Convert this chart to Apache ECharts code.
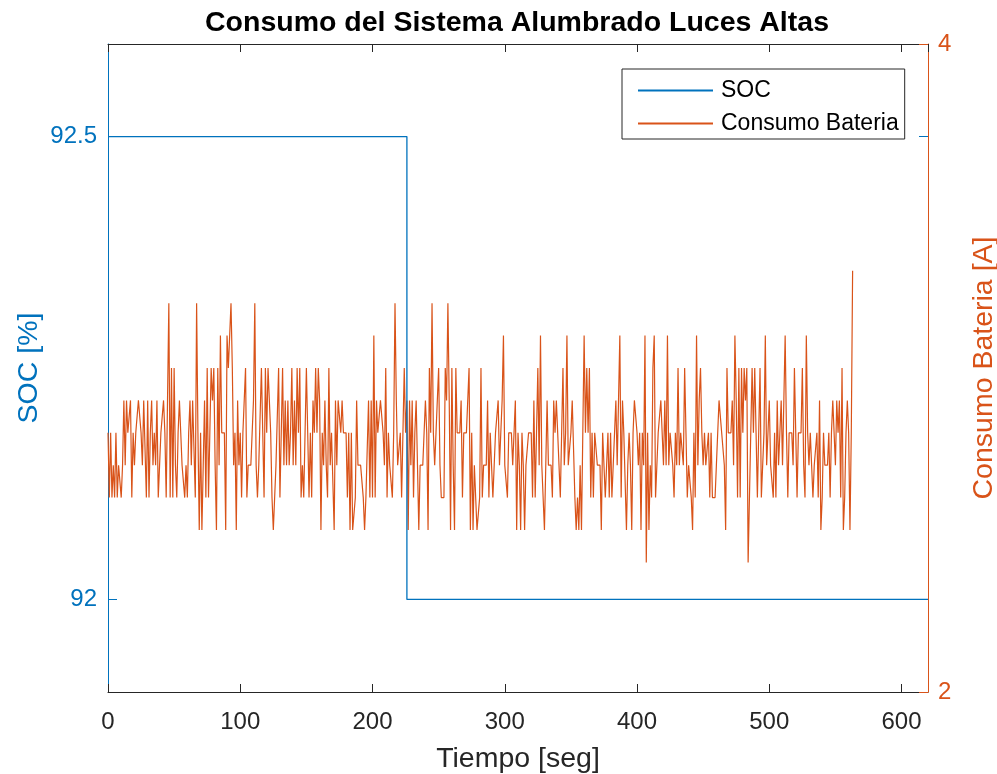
<!DOCTYPE html>
<html>
<head>
<meta charset="utf-8">
<title>Consumo del Sistema Alumbrado Luces Altas</title>
<script src="https://cdn.jsdelivr.net/npm/echarts@6/dist/echarts.min.js"></script>
<style>
  html, body { margin: 0; padding: 0; background: #fff; }
  #chart { width: 997px; height: 774px; }
</style>
</head>
<body>
<div id="chart"></div>
<script>
// State of charge (%) — step change during the test
const socTime = [0, 226, 620];
const socValue = [92.5, 92.0, 92.0];

// Battery current draw (A), sampled once per second starting at t = 0 s
const sampleStep = 1;
const batteryCurrent = [
  2.8,2.6,2.8,2.6,2.7,2.6,2.8,2.6,2.7,2.7,
  2.6,2.7,2.9,2.7,2.9,2.8,2.8,2.9,2.6,2.8,
  2.7,2.8,2.8,2.9,2.9,2.8,2.7,2.9,2.9,2.6,
  2.9,2.6,2.8,2.9,2.7,2.8,2.7,2.9,2.6,2.7,
  2.8,2.8,2.9,2.8,2.6,2.9,3.2,2.6,3.0,2.6,
  3.0,2.7,2.6,2.8,2.9,2.8,2.7,2.7,2.6,2.7,
  2.6,2.8,2.9,2.7,2.9,2.9,2.6,3.2,2.8,2.5,
  2.8,2.5,2.7,2.9,2.6,3.0,2.6,2.8,3.0,2.9,
  3.0,2.7,2.5,3.0,2.7,3.1,2.8,2.8,2.8,2.5,
  3.1,3.0,3.1,3.2,3.0,2.7,2.8,2.5,2.9,2.7,
  2.8,2.6,2.8,2.8,3.0,2.6,2.7,2.7,2.7,2.8,
  2.9,3.2,2.7,2.6,2.7,2.7,3.0,2.8,2.6,3.0,
  2.8,3.0,3.0,2.8,2.6,2.5,2.6,2.7,2.7,3.0,
  2.6,2.8,3.0,2.7,2.9,2.7,2.9,2.7,2.8,3.0,
  2.7,2.9,2.7,3.0,2.8,3.0,2.6,2.7,2.6,2.8,
  3.0,2.8,2.6,2.8,2.6,2.9,2.8,3.0,2.8,3.0,
  2.9,2.5,2.8,2.7,2.9,2.7,2.6,3.0,2.7,2.8,
  2.8,2.5,2.9,2.7,2.9,2.9,2.8,2.9,2.8,2.8,
  2.8,2.6,2.8,2.5,2.8,2.5,2.5,2.6,2.9,2.7,
  2.7,2.7,2.7,2.6,2.5,2.6,2.6,2.9,2.6,2.9,
  2.6,3.1,2.6,2.9,2.8,2.8,2.9,2.9,2.8,2.7,
  3.0,2.6,2.8,2.7,2.7,2.6,2.8,3.2,2.9,2.7,
  2.7,2.8,2.6,2.8,3.0,2.8,2.9,2.5,2.9,2.7,
  2.9,2.6,2.8,2.9,2.7,2.5,2.7,2.7,2.7,2.8,
  2.9,2.8,2.5,3.0,2.8,3.2,2.8,2.7,2.8,2.8,
  3.0,2.7,2.6,2.6,2.6,3.0,2.9,3.2,2.9,2.5,
  3.0,2.7,2.5,3.0,2.8,2.8,2.8,2.9,2.6,2.8,
  2.8,2.8,2.8,3.0,2.5,2.8,2.5,2.7,2.7,2.5,
  2.5,2.6,3.0,2.6,2.7,2.7,2.7,2.9,2.6,2.8,
  2.7,2.6,2.7,2.8,2.8,2.9,2.7,2.8,2.9,3.1,
  2.7,2.7,2.6,2.8,2.8,2.8,2.7,2.8,2.9,2.5,
  2.8,2.7,2.5,2.8,2.7,2.5,2.7,2.7,2.8,2.8,
  2.8,2.6,2.9,2.6,2.8,3.0,2.7,3.1,2.7,2.7,
  2.5,2.7,2.9,2.7,2.7,2.7,2.6,2.9,2.8,2.9,
  2.8,2.8,2.6,2.8,3.0,2.7,2.8,3.1,2.7,2.7,
  2.8,2.9,2.9,2.6,2.5,2.6,2.5,2.7,2.5,2.8,
  3.1,2.8,3.0,2.8,3.0,2.6,2.8,2.6,2.8,2.8,
  2.7,2.7,2.7,2.5,2.8,2.8,2.6,2.7,2.8,2.6,
  2.8,2.6,2.6,2.8,2.9,2.7,2.9,3.1,2.6,2.9,
  2.8,2.8,2.5,2.7,2.8,2.7,2.5,2.8,2.9,2.9,
  2.8,2.7,2.8,2.5,2.8,2.7,3.1,2.4,2.8,2.5,
  2.7,2.6,3.0,3.1,2.6,2.7,2.8,2.8,2.9,2.9,
  2.7,2.9,2.7,3.1,2.7,2.8,2.8,2.7,2.6,2.8,
  2.7,3.0,2.7,2.8,2.8,2.7,3.0,2.8,2.6,2.7,
  2.7,2.6,2.5,2.8,2.6,3.1,2.7,2.9,3.0,2.8,
  2.7,2.8,2.7,2.7,2.8,2.6,2.8,2.6,2.6,2.6,
  2.7,2.7,2.9,2.9,2.8,2.8,2.7,2.5,3.0,2.8,
  2.8,2.8,2.9,2.7,3.1,2.9,2.6,3.0,2.6,3.0,
  2.8,3.0,2.9,3.0,2.4,2.6,2.6,3.0,2.8,3.0,
  2.8,2.6,2.6,3.0,2.6,2.7,2.8,3.1,2.7,2.7,
  2.9,2.7,2.7,2.6,2.8,2.6,2.9,2.7,2.8,2.9,
  2.7,2.9,3.1,2.8,2.6,2.8,2.8,2.8,2.7,3.0,
  2.8,2.6,2.8,2.8,2.8,3.0,2.7,2.6,3.1,2.8,
  2.7,2.8,2.7,2.6,2.7,2.7,2.8,2.6,2.9,2.5,
  2.6,2.8,2.7,2.7,2.7,2.8,2.6,2.8,2.9,2.9,
  2.7,2.9,2.8,2.9,2.6,3.0,2.5,2.6,2.8,2.9,
  2.8,2.5,2.8,3.3
];

// Axis ranges and ticks
const timeRange = [0, 620];
const timeStep = 100;
const socRange = [91.9, 92.6];
const socTicks = [92, 92.5];
const currentRange = [2, 4];
const currentStep = 2;

const BLUE = '#0072BD';
const ORANGE = '#D95319';
const INK = '#262626';
const FONT = '"Liberation Sans", Arial, Helvetica, sans-serif';

const socData = socTime.map((t, i) => [t, socValue[i]]);
const currentData = batteryCurrent.map((v, i) => [i * sampleStep, v]);

const chart = echarts.init(document.getElementById('chart'), null, { renderer: 'canvas' });

chart.setOption({
  animation: false,
  backgroundColor: '#ffffff',
  textStyle: { fontFamily: FONT },
  title: {
    text: 'Consumo del Sistema Alumbrado Luces Altas',
    left: 512,
    top: 4,
    textAlign: 'center',
    textStyle: { fontFamily: FONT, fontSize: 28.5, fontWeight: 'bold', color: '#000' }
  },
  legend: {
    data: ['SOC', 'Consumo Bateria'],
    orient: 'vertical',
    left: 622,
    top: 69,
    backgroundColor: '#ffffff',
    borderColor: INK,
    borderWidth: 1,
    borderRadius: 0,
    padding: [10, 6, 4, 16],
    itemGap: 10,
    itemWidth: 75,
    itemHeight: 2,
    icon: 'rect',
    textStyle: { fontFamily: FONT, fontSize: 23, color: '#000', padding: [0, 0, 0, 3] }
  },
  grid: { left: 108, right: 69, top: 44, bottom: 82, containLabel: false, outerBoundsMode: 'none' },
  xAxis: [
    {
      type: 'value',
      position: 'bottom',
      min: timeRange[0],
      max: timeRange[1],
      interval: timeStep,
      name: 'Tiempo [seg]',
      nameLocation: 'middle',
      nameGap: 53,
      nameMoveOverlap: false,
      nameTextStyle: { fontFamily: FONT, fontSize: 28.5, color: INK },
      axisLine: { show: true, onZero: false, lineStyle: { color: INK, width: 1 } },
      axisTick: { show: true, inside: true, length: 8, lineStyle: { color: INK } },
      axisLabel: { fontFamily: FONT, fontSize: 24, color: INK, margin: 18, showMaxLabel: false },
      splitLine: { show: false }
    },
    {
      type: 'value',
      position: 'top',
      min: timeRange[0],
      max: timeRange[1],
      interval: timeStep,
      axisLine: { show: true, onZero: false, lineStyle: { color: INK, width: 1 } },
      axisTick: { show: true, inside: true, length: 8, lineStyle: { color: INK } },
      axisLabel: { show: false },
      splitLine: { show: false }
    }
  ],
  yAxis: [
    {
      type: 'value',
      position: 'left',
      min: socRange[0],
      max: socRange[1],
      name: 'SOC [%]',
      nameLocation: 'middle',
      nameRotate: 90,
      nameGap: 64,
      nameMoveOverlap: false,
      nameTextStyle: { fontFamily: FONT, fontSize: 28.5, color: BLUE },
      axisLine: { show: true, onZero: false, lineStyle: { color: BLUE, width: 1 } },
      axisTick: { show: true, inside: true, length: 9, customValues: socTicks, lineStyle: { color: BLUE } },
      axisLabel: {
        fontFamily: FONT, fontSize: 24, color: BLUE, margin: 11,
        customValues: socTicks,
        formatter: v => String(Math.round(v * 10) / 10)
      },
      splitLine: { show: false }
    },
    {
      type: 'value',
      position: 'right',
      min: currentRange[0],
      max: currentRange[1],
      interval: currentStep,
      name: 'Consumo Bateria [A]',
      nameLocation: 'middle',
      nameRotate: 90,
      nameGap: 42,
      nameMoveOverlap: false,
      nameTextStyle: { fontFamily: FONT, fontSize: 28.5, color: ORANGE },
      axisLine: { show: true, onZero: false, lineStyle: { color: ORANGE, width: 1 } },
      axisTick: { show: true, inside: true, length: 9, lineStyle: { color: ORANGE } },
      axisLabel: { fontFamily: FONT, fontSize: 24, color: ORANGE, margin: 10 },
      splitLine: { show: false }
    },
    {
      // mirrored SOC ticks on the right-hand edge
      type: 'value',
      position: 'right',
      min: socRange[0],
      max: socRange[1],
      axisLine: { show: false, onZero: false },
      axisTick: { show: true, inside: true, length: 9, customValues: socTicks, lineStyle: { color: BLUE } },
      axisLabel: { show: false, customValues: socTicks },
      splitLine: { show: false }
    }
  ],
  series: [
    {
      name: 'SOC',
      type: 'line',
      xAxisIndex: 0,
      yAxisIndex: 0,
      data: socData,
      step: 'end',
      symbol: 'none',
      showSymbol: false,
      color: BLUE,
      lineStyle: { color: BLUE, width: 1.3 },
      z: 3
    },
    {
      name: 'Consumo Bateria',
      type: 'line',
      xAxisIndex: 0,
      yAxisIndex: 1,
      data: currentData,
      symbol: 'none',
      showSymbol: false,
      color: ORANGE,
      lineStyle: { color: ORANGE, width: 1.2 },
      z: 2
    }
  ]
});
</script>
</body>
</html>
